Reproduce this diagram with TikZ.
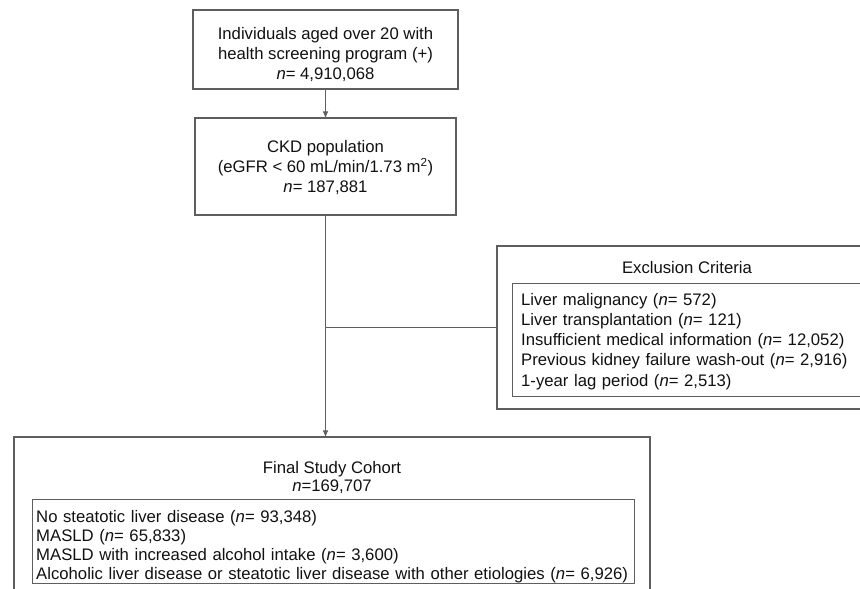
\documentclass[tikz,border=0pt]{standalone}
\usepackage{fontspec}
\setmainfont{Liberation Sans}
\usetikzlibrary{arrows.meta,positioning,calc}
\definecolor{cLine}{HTML}{5E5E5E}
\definecolor{cInk}{HTML}{111111}
\tikzset{
  >={Triangle[length=6pt,width=5pt]},
  txt/.style   ={align=center,inner sep=0pt,text=cInk,
                 font=\fontsize{16.7}{20}\selectfont},
  box/.style   ={txt,draw=cLine,line width=1.1pt},
  frame/.style ={draw=cLine,line width=1.1pt,inner sep=0pt,anchor=north west},
  listtxt/.style={txt,align=left,anchor=north west},
  ar/.style    ={->,line width=0.9pt,cLine},
  ln/.style    ={line width=0.9pt,cLine},
}

\begin{document}
\begin{tikzpicture}[x=1pt,y=-1pt]
\useasboundingbox (0,0) rectangle (860,589);
\clip (0,0) rectangle (860,589);
% flow down the left
\node[box,minimum width=265pt,minimum height=79pt] (screen) at (325.5,49.5)
  {\rule{0pt}{22pt}Individuals aged over 20 with\\ health screening program (+)\\ \textit{n}= 4,910,068};
\node[box,minimum width=261pt,minimum height=97pt] (ckd) at (325.5,166.5)
  {\rule{0pt}{15pt}CKD population\\ (eGFR < 60 mL/min/1.73 m\textsuperscript{2})\\ \textit{n}= 187,881};
% exclusion box on the right
\node[box,minimum width=380pt,minimum height=163pt] (excl) at (687,327.5) {};
\node[txt] (exclT) at (687,268) {Exclusion Criteria};
\node[frame,minimum width=353pt,minimum height=113pt] (exclF) at (512,283) {};
\node[listtxt,font=\fontsize{16.7}{20.2}\selectfont,text width=335pt] (exclL) at (521,293)
  {Liver malignancy (\textit{n}= 572)\\
   Liver transplantation (\textit{n}= 121)\\
   Insufficient medical information (\textit{n}= 12,052)\\
   Previous kidney failure wash-out (\textit{n}= 2,916)\\
   1-year lag period (\textit{n}= 2,513)};
% final cohort
\node[box,minimum width=636pt,minimum height=170pt] (cohort) at (332,522) {};
\node[txt,font=\fontsize{16.7}{18}\selectfont] (cohortT) at (332,477.5)
  {Final Study Cohort\\ \textit{n}=169,707};
\node[frame,minimum width=602pt,minimum height=84pt] (cohortF) at (32,499) {};
\node[listtxt,font=\fontsize{16.7}{19}\selectfont,text width=594pt] (cohortL) at (36,510.5)
  {No steatotic liver disease (\textit{n}= 93,348)\\
   MASLD (\textit{n}= 65,833)\\
   MASLD with increased alcohol intake (\textit{n}= 3,600)\\
   Alcoholic liver disease or steatotic liver disease with other etiologies (\textit{n}= 6,926)};
% connectors
\draw[ar] (screen) -- (ckd);
\draw[ar] (ckd.south) -- (ckd.south |- cohort.north);
\draw[ln] (excl.west) -- (excl.west -| ckd.south);
\end{tikzpicture}
\end{document}
